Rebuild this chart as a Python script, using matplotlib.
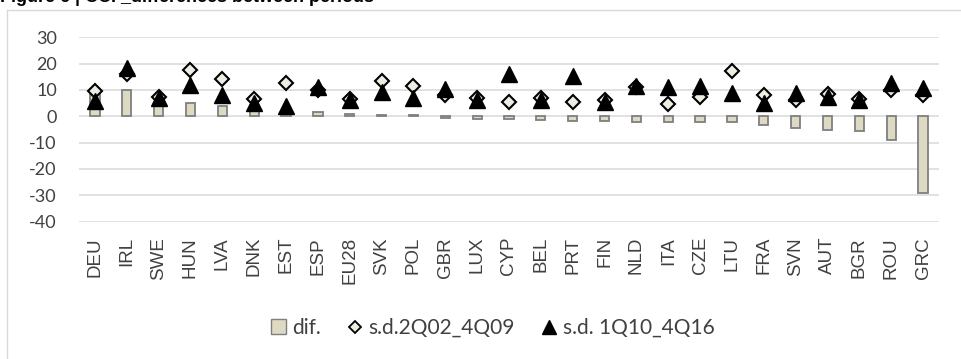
import matplotlib
matplotlib.use("Agg")
import matplotlib.pyplot as plt
from matplotlib.lines import Line2D
from matplotlib.patches import Patch
import numpy as np

categories = ["DEU", "IRL", "SWE", "HUN", "LVA", "DNK", "EST", "ESP", "EU28", "SVK",
              "POL", "GBR", "LUX", "CYP", "BEL", "PRT", "FIN", "NLD", "ITA", "CZE",
              "LTU", "FRA", "SVN", "AUT", "BGR", "ROU", "GRC"]
dif = [10.3, 10.0, 5.2, 4.9, 3.8, 3.0, 2.0, 1.6, 0.8, 0.5,
       0.3, -0.6, -1.0, -1.1, -1.6, -1.7, -1.8, -2.0, -2.1, -2.2,
       -2.3, -3.3, -4.6, -5.1, -5.7, -8.9, -29.3]
sd_0209 = [9.7, 16.0, 7.2, 17.6, 14.2, 6.7, 12.5, 10.0, 6.6, 13.3,
           11.5, 8.1, 7.0, 5.3, 6.8, 5.6, 6.0, 11.0, 4.7, 7.5,
           17.3, 8.1, 6.2, 8.5, 6.7, 10.0, 8.1]
sd_1016 = [5.8, 18.3, 6.8, 11.8, 8.0, 4.9, 4.0, 11.0, 6.0, 9.4,
           7.1, 10.3, 6.3, 16.1, 6.1, 15.4, 5.5, 11.6, 11.0, 11.5,
           9.0, 4.9, 8.7, 7.2, 6.1, 12.5, 10.8]
yticks = [30, 20, 10, 0, -10, -20, -30, -40]
title = "Figure 6 | CCI _differences between periods"
legend_labels = ["dif.", "s.d.2Q02_4Q09", "s.d. 1Q10_4Q16"]

W, H = 961, 359
fig = plt.figure(figsize=(W / 100, H / 100), dpi=100)

# chart frame
fig.add_artist(Line2D([7 / W, 1.0], [1 - 9.5 / H] * 2, color="#D9D9D9", lw=1.0,
                      transform=fig.transFigure))
fig.add_artist(Line2D([7 / W] * 2, [0.0, 1 - 9.5 / H], color="#D9D9D9", lw=1.0,
                      transform=fig.transFigure))

fig.text(0.0, 1 + 2.5 / H, title, fontsize=13, fontweight="bold",
         family=["Liberation Sans", "DejaVu Sans"], ha="left", va="center")

ax = fig.add_axes([79 / W, 1 - 221.6 / H, (939 - 79) / W, (221.6 - 37.3) / H])
x = np.arange(len(categories))
bar_color = "#DDD9C3"
ax.bar(x, dif, width=0.29, color=bar_color, edgecolor="#7F7F7F", linewidth=1.3, zorder=2)
ax.plot(x, sd_0209, linestyle="none", marker="D", markersize=7, markerfacecolor="#EFEDE3",
        markeredgecolor="black", markeredgewidth=1.5, zorder=3)
ax.plot(x, sd_1016, linestyle="none", marker="^", markersize=11, markerfacecolor="black",
        markeredgecolor="black", markeredgewidth=1.0, zorder=4)

ax.set_xlim(-0.5, len(categories) - 0.5)
ax.set_ylim(-40, 30)
ax.set_yticks(yticks)
ax.set_yticklabels([str(v) for v in yticks], family=["Lato", "DejaVu Sans"], fontsize=13,
                   color="#404040")
ax.set_xticks(x)
ax.set_xticklabels(categories, rotation=90, family=["Liberation Sans", "DejaVu Sans"],
                   fontsize=13.5, color="#404040", va="top", ha="center")
ax.tick_params(axis="y", length=0, pad=16)
ax.tick_params(axis="x", length=0, pad=11)
for s in ax.spines.values():
    s.set_visible(False)
ax.grid(axis="y", color="#D9D9D9", linewidth=1.1, zorder=0)
ax.set_axisbelow(True)

handles = [
    Patch(facecolor=bar_color, edgecolor="#7F7F7F", linewidth=1.0),
    Line2D([], [], linestyle="none", marker="D", markersize=6, markerfacecolor="#EFEDE3",
           markeredgecolor="black", markeredgewidth=1.3),
    Line2D([], [], linestyle="none", marker="^", markersize=10, markerfacecolor="black",
           markeredgecolor="black"),
]
leg = fig.legend(handles, legend_labels, loc="center", bbox_to_anchor=(493 / W, 1 - 328 / H),
                 ncol=3, frameon=False, prop={"family": ["Lato", "DejaVu Sans"], "size": 15},
                 handlelength=0.7, handleheight=0.7, handletextpad=0.3, columnspacing=1.3,
                 labelcolor="#404040")

fig.savefig("out.png", dpi=100)
